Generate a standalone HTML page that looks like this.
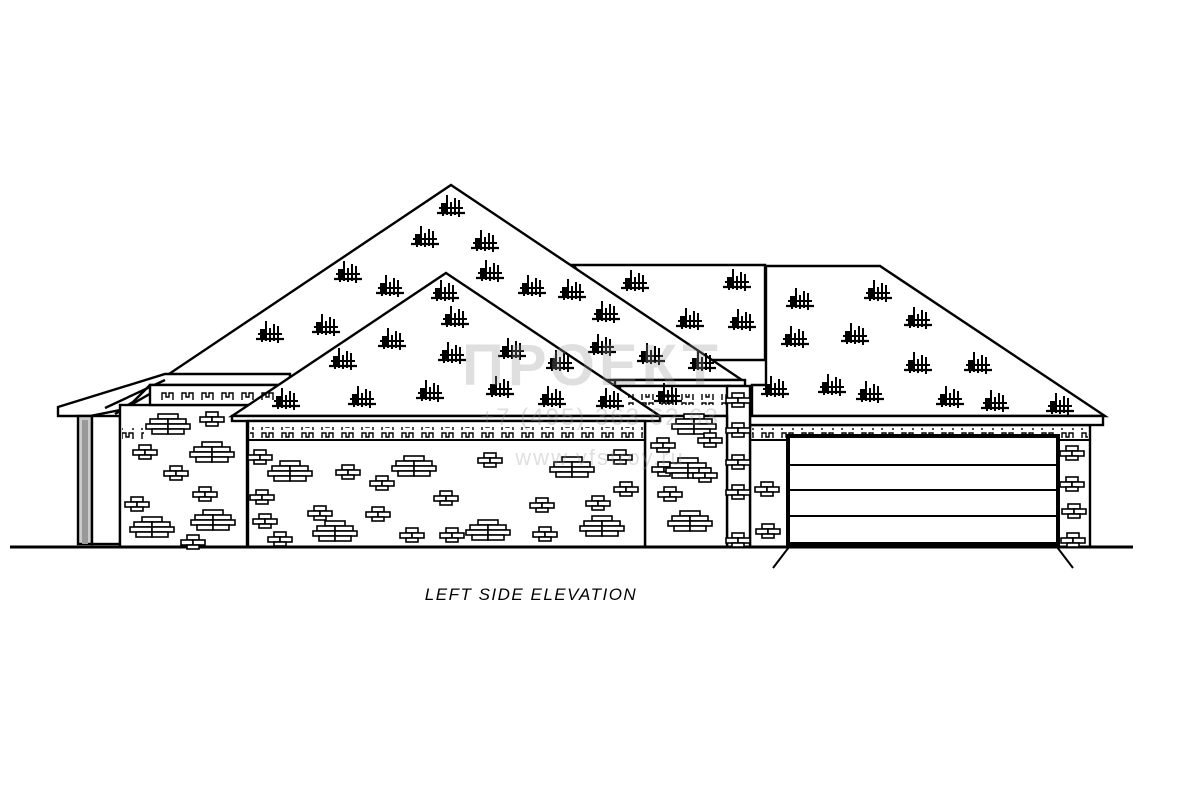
<!DOCTYPE html>
<html><head><meta charset="utf-8"><style>
html,body{margin:0;padding:0;background:#fff;width:1200px;height:800px;overflow:hidden}
svg{display:block}
</style></head><body>
<svg width="1200" height="800" viewBox="0 0 1200 800" xmlns="http://www.w3.org/2000/svg">
<defs>
<g id="sh" stroke="#000" fill="none" stroke-width="2">
<line x1="-14" y1="6" x2="14" y2="6" stroke-width="2.2"/>
<line x1="-12" y1="1" x2="12" y2="1"/>
<line x1="-8" y1="-4" x2="-8" y2="9"/><line x1="-4" y1="-12" x2="-4" y2="8"/>
<line x1="0" y1="-5" x2="0" y2="9"/><line x1="4" y1="-9" x2="4" y2="8"/>
<line x1="8" y1="-7" x2="8" y2="10"/>
<rect x="-10" y="-4" width="5" height="9" fill="#000" stroke="none"/>
</g>
<g id="bs" stroke="#000" fill="#fff" stroke-width="1.6">
<rect x="-6" y="-5" width="12" height="5"/><rect x="-12" y="0" width="12" height="5"/><rect x="0" y="0" width="12" height="5"/><rect x="-6" y="5" width="12" height="4"/>
</g>
<g id="bb" stroke="#000" fill="#fff" stroke-width="1.6">
<rect x="-10" y="-9" width="20" height="5"/><rect x="-18" y="-4" width="18" height="5"/><rect x="0" y="-4" width="18" height="5"/>
<rect x="-22" y="1" width="22" height="5"/><rect x="0" y="1" width="22" height="5"/>
<rect x="-16" y="6" width="16" height="5"/><rect x="0" y="6" width="16" height="5"/>
</g>
<pattern id="dent" x="0" y="0" width="20" height="10" patternUnits="userSpaceOnUse">
<path d="M2 10 V3 H6 V7 H9 V3 H13 V10" stroke="#000" fill="none" stroke-width="1.4"/>
</pattern>
</defs>
<g stroke="#000" fill="#fff" stroke-width="2.4" stroke-linejoin="miter">
<polygon points="766,266 880,266 1105,416 752,416 752,385 766,385"/>
<polygon points="573,265 765,265 765,360 660,360"/>
<polygon points="451,185 742,380 160,380"/>
<polygon points="58,407 165,374 290,374 290,385 150,385 133,402 120,410 90,416 58,416"/>
<line x1="105" y1="408" x2="165" y2="380"/>
<line x1="115" y1="414" x2="160" y2="388"/>
<rect x="78" y="416" width="14" height="128" fill="#ccc"/>
<rect x="82" y="420" width="6" height="124" fill="#999" stroke="none"/>
<rect x="92" y="416" width="28" height="128"/>
<rect x="120" y="405" width="127" height="142"/>
<rect x="150" y="385" width="130" height="20"/>
<rect x="615" y="380" width="130" height="6"/>
<rect x="620" y="386" width="110" height="30"/>
<rect x="750" y="425" width="340" height="122"/>
<rect x="750" y="416" width="353" height="9"/>
<rect x="727" y="386" width="23" height="161"/>
<rect x="645" y="416" width="82" height="131"/>
<polygon points="446,273 660,416 232,416"/>
<rect x="232" y="416" width="428" height="5"/>
<rect x="248" y="421" width="397" height="126"/>
</g>
<rect x="250" y="427" width="393" height="11" fill="url(#dent)"/>
<rect x="122" y="428" width="22" height="11" fill="url(#dent)"/>
<rect x="160" y="390" width="115" height="11" fill="url(#dent)"/>
<rect x="628" y="394" width="98" height="11" fill="url(#dent)"/>
<rect x="752" y="428" width="336" height="10" fill="url(#dent)"/>
<line x1="248" y1="440" x2="645" y2="440" stroke="#000" stroke-width="2"/>
<line x1="750" y1="440" x2="1090" y2="440" stroke="#000" stroke-width="2"/>
<g stroke="#000" fill="#fff">
<rect x="788" y="436" width="270" height="108" stroke-width="4"/>
<line x1="790" y1="465" x2="1056" y2="465" stroke-width="2"/>
<line x1="790" y1="490" x2="1056" y2="490" stroke-width="2"/>
<line x1="790" y1="516" x2="1056" y2="516" stroke-width="2"/>
<line x1="789" y1="547" x2="773" y2="568" stroke-width="2"/>
<line x1="1057" y1="547" x2="1073" y2="568" stroke-width="2"/>
</g>
<line x1="10" y1="547" x2="1133" y2="547" stroke="#000" stroke-width="3"/>
<g>
<use href="#sh" x="451" y="207"/><use href="#sh" x="425" y="238"/><use href="#sh" x="485" y="242"/>
<use href="#sh" x="348" y="273"/><use href="#sh" x="390" y="287"/><use href="#sh" x="490" y="272"/>
<use href="#sh" x="532" y="287"/><use href="#sh" x="572" y="291"/><use href="#sh" x="445" y="292"/>
<use href="#sh" x="270" y="333"/><use href="#sh" x="326" y="326"/><use href="#sh" x="455" y="318"/>
<use href="#sh" x="392" y="340"/><use href="#sh" x="343" y="360"/><use href="#sh" x="452" y="354"/>
<use href="#sh" x="512" y="350"/><use href="#sh" x="602" y="346"/><use href="#sh" x="606" y="313"/>
<use href="#sh" x="635" y="282"/><use href="#sh" x="737" y="281"/><use href="#sh" x="690" y="320"/>
<use href="#sh" x="742" y="321"/><use href="#sh" x="651" y="355"/><use href="#sh" x="702" y="362"/>
<use href="#sh" x="560" y="362"/><use href="#sh" x="500" y="388"/><use href="#sh" x="430" y="392"/>
<use href="#sh" x="362" y="398"/><use href="#sh" x="286" y="400"/><use href="#sh" x="552" y="398"/>
<use href="#sh" x="610" y="400"/><use href="#sh" x="800" y="300"/><use href="#sh" x="878" y="292"/>
<use href="#sh" x="795" y="338"/><use href="#sh" x="855" y="335"/><use href="#sh" x="918" y="319"/>
<use href="#sh" x="775" y="388"/><use href="#sh" x="832" y="386"/><use href="#sh" x="870" y="393"/>
<use href="#sh" x="918" y="364"/><use href="#sh" x="978" y="364"/><use href="#sh" x="950" y="398"/>
<use href="#sh" x="995" y="402"/><use href="#sh" x="1060" y="405"/><use href="#sh" x="668" y="395"/>
</g>
<g>
<use href="#bb" x="168" y="423"/><use href="#bs" x="212" y="417"/><use href="#bs" x="145" y="450"/>
<use href="#bb" x="212" y="451"/><use href="#bs" x="176" y="471"/><use href="#bs" x="205" y="492"/>
<use href="#bs" x="137" y="502"/><use href="#bb" x="152" y="526"/><use href="#bb" x="213" y="519"/>
<use href="#bs" x="193" y="540"/>
<use href="#bs" x="260" y="455"/><use href="#bb" x="290" y="470"/><use href="#bs" x="348" y="470"/>
<use href="#bb" x="414" y="465"/><use href="#bs" x="490" y="458"/><use href="#bb" x="572" y="466"/>
<use href="#bs" x="620" y="455"/><use href="#bs" x="382" y="481"/><use href="#bs" x="262" y="495"/>
<use href="#bs" x="446" y="496"/><use href="#bs" x="598" y="501"/><use href="#bs" x="542" y="503"/>
<use href="#bs" x="626" y="487"/><use href="#bs" x="320" y="511"/><use href="#bs" x="378" y="512"/>
<use href="#bs" x="265" y="519"/><use href="#bb" x="335" y="530"/><use href="#bb" x="488" y="529"/>
<use href="#bb" x="602" y="525"/><use href="#bs" x="412" y="533"/><use href="#bs" x="452" y="533"/>
<use href="#bs" x="545" y="532"/><use href="#bs" x="280" y="537"/>
<use href="#bs" x="663" y="443"/><use href="#bb" x="694" y="423"/><use href="#bs" x="710" y="438"/>
<use href="#bs" x="664" y="467"/><use href="#bb" x="688" y="467"/><use href="#bs" x="670" y="492"/>
<use href="#bb" x="690" y="520"/><use href="#bs" x="705" y="473"/>
<use href="#bs" x="738" y="398"/><use href="#bs" x="738" y="428"/><use href="#bs" x="738" y="460"/>
<use href="#bs" x="738" y="490"/><use href="#bs" x="738" y="538"/><use href="#bs" x="767" y="487"/>
<use href="#bs" x="768" y="529"/><use href="#bs" x="1072" y="451"/><use href="#bs" x="1072" y="482"/>
<use href="#bs" x="1074" y="509"/><use href="#bs" x="1073" y="538"/>
</g>
<g fill="#999" opacity="0.3" font-family="'Liberation Sans',sans-serif">
<text x="592" y="385" font-size="58" font-weight="bold" text-anchor="middle" letter-spacing="4">ПРОЕКТ</text>
<text x="600" y="425" font-size="24" text-anchor="middle" letter-spacing="2">+7 (495) 363 62 63</text>
<text x="600" y="465" font-size="22" text-anchor="middle" letter-spacing="2">www.vfstroy.ru</text>
</g>
<text x="531" y="600" font-family="'Liberation Sans',sans-serif" font-size="17" font-style="italic" text-anchor="middle" letter-spacing="1.5" fill="#000">LEFT SIDE ELEVATION</text>
</svg>
</body></html>
